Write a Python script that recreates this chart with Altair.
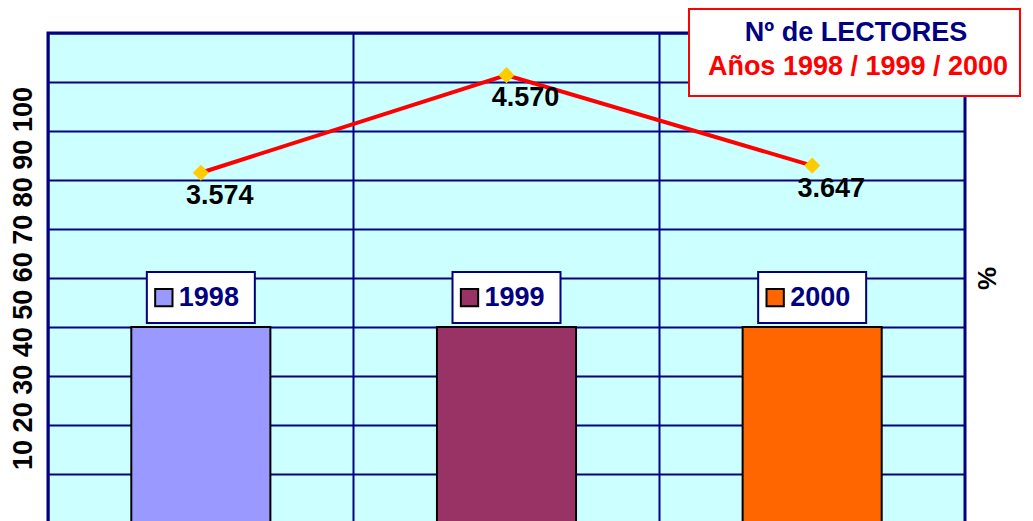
import altair as alt
import pandas as pd

years = ["1998", "1999", "2000"]
bar_values = [40, 40, 40]
bar_colors = ["#9999FF", "#993366", "#FF6600"]
readers = [3574, 4570, 3647]
reader_labels = ["3.574", "4.570", "3.647"]
y_axis_text = "10 20 30 40 50 60 70 80 90 100"
title_line1 = "Nº de LECTORES"
title_line2 = "Años 1998 / 1999 / 2000"

df = pd.DataFrame({"year": years, "pct": bar_values, "readers": readers, "label": reader_labels})

FONT = "Liberation Sans"
NAVY = "#000080"
W, H = 917, 490

x_enc = alt.X("year:N", sort=years,
              scale=alt.Scale(paddingInner=0, paddingOuter=0),
              axis=alt.Axis(title=None, labels=False, ticks=False, domain=False, grid=True,
                            bandPosition=0, gridColor=NAVY, gridWidth=2, gridOpacity=1))

y_scale_a = alt.Scale(domain=[0, 100], nice=False)
y_axis_a = alt.Axis(values=list(range(0, 101, 10)), labels=False, ticks=False, domain=False,
                    grid=True, gridColor=NAVY, gridWidth=2, gridOpacity=1,
                    title=y_axis_text, titleFont=FONT, titleFontSize=27, titleFontWeight="bold",
                    titleColor="black", titleAngle=270, titleX=-25, titleY=245,
                    titleAlign="center", titleBaseline="middle")

def ya(field=None, datum=None):
    if field is not None:
        return alt.Y(field, type="quantitative", scale=y_scale_a, axis=y_axis_a)
    return alt.Y(datum=datum, type="quantitative", scale=y_scale_a, axis=y_axis_a)

color_enc = alt.Color("year:N", scale=alt.Scale(domain=years, range=bar_colors), legend=None)

base = alt.Chart(df)

bars = base.mark_bar(stroke="black", strokeWidth=2, width=alt.RelativeBandSize(0.455), opacity=1).encode(
    x=x_enc, y=ya("pct"), color=color_enc)

boxes = base.mark_bar(fill="white", stroke=NAVY, strokeWidth=2, width=108).encode(
    x=x_enc, y=ya(datum=51.2), y2=alt.Y2(datum=40.8))

squares = base.mark_square(size=300, filled=True, stroke="black", strokeWidth=2, xOffset=-37, opacity=1).encode(
    x=x_enc, y=ya(datum=46), color=color_enc)

year_text = base.mark_text(align="left", baseline="middle", dx=-22, font=FONT, fontSize=27,
                           fontWeight="bold", color=NAVY).encode(
    x=x_enc, y=ya(datum=46), text="year:N")

layer_a = alt.layer(bars, boxes, squares, year_text)

y_b = alt.Y("readers:Q", scale=alt.Scale(domain=[0, 5000], nice=False),
            axis=alt.Axis(orient="right", labels=False, ticks=False, domain=False, grid=False,
                          title="%", titleFont=FONT, titleFontSize=26, titleFontWeight="bold",
                          titleColor="black", titleAngle=270, titleX=22, titleY=245,
                          titleAlign="center", titleBaseline="middle"))

line = base.mark_line(color="#FF0000", strokeWidth=4).encode(x=x_enc, y=y_b)
points = base.mark_point(shape="diamond", filled=True, color="#FFCC00", size=260, opacity=1).encode(x=x_enc, y=y_b)
labels = base.mark_text(dx=19, dy=23, align="center", baseline="middle", font=FONT, fontSize=27,
                        fontWeight="bold", color="black").encode(x=x_enc, y=y_b, text="label:N")

layer_b = alt.layer(line, points, labels)

title_box = alt.Chart(df).mark_rect(fill="white", stroke="#FF0000", strokeWidth=2).encode(
    x=alt.value(641), x2=alt.value(972), y=alt.value(-24), y2=alt.value(63))
t1 = alt.Chart(pd.DataFrame({"t": [title_line1]})).mark_text(
    font=FONT, fontSize=27, fontWeight="bold", color=NAVY, align="center", baseline="middle").encode(
    x=alt.value(808), y=alt.value(0), text="t:N")
t2 = alt.Chart(pd.DataFrame({"t": [title_line2]})).mark_text(
    font=FONT, fontSize=27, fontWeight="bold", color="#FF0000", align="center", baseline="middle").encode(
    x=alt.value(810), y=alt.value(34), text="t:N")

chart = alt.layer(layer_a, layer_b, title_box, t1, t2).resolve_scale(y="independent").properties(
    width=W, height=H,
    autosize=alt.AutoSizeParams(type="none"),
    padding={"left": 40, "top": 25, "right": 60, "bottom": 0},
    background="white",
).configure_view(stroke=NAVY, strokeWidth=3, fill="#CCFFFF")

chart.save("out.html", embed_options={"renderer": "svg", "actions": False})
